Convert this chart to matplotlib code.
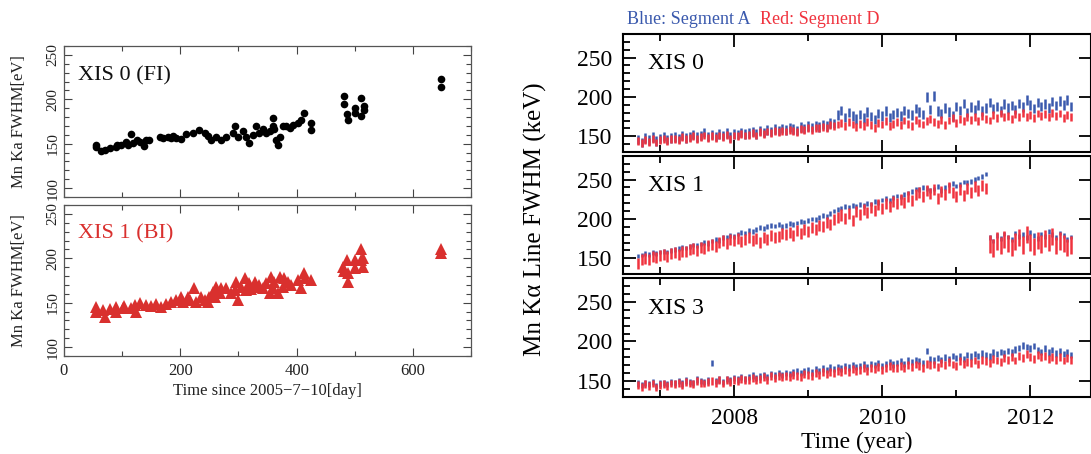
import matplotlib
matplotlib.use("Agg")
import matplotlib.pyplot as plt
from matplotlib.ticker import MultipleLocator, NullFormatter

plt.rcParams['font.family'] = ['Liberation Serif', 'DejaVu Serif']

# ---------------- Left panels: days since 2005-07-10 ----------------
fi_day = [55.6, 55.6, 64, 70, 78.5, 90, 91, 98.5, 107, 110, 116, 118.6, 125, 130, 137, 141.5, 147,
          164.5, 170, 179, 184.5, 187.4, 193, 201.7, 210, 222, 233, 242, 247.5, 253, 262, 270, 279,
          290.5, 293.5, 299, 308, 313, 319, 325, 331, 336, 342, 348, 353.5, 359, 359, 362, 365, 368, 371,
          376, 382, 388, 394, 402, 408, 412, 425, 425,
          482, 482, 487, 488, 501, 501, 511, 511, 516, 516, 648.6, 648.6]
fi_fwhm = [148, 146, 141.5, 142.6, 145, 146, 149, 149, 151.6, 148, 161, 151, 154.6, 151.6, 147, 154.6, 154,
           158, 156.5, 158, 156.5, 159, 156.5, 155, 161, 162, 165, 162, 159, 154.6, 158, 154.6, 158,
           162, 169.7, 158, 164, 158, 151, 160, 169.7, 162, 166, 162, 164, 179, 170, 166, 154.6, 149, 158,
           169.7, 169.7, 168, 171.6, 173, 177, 184.8, 173.5, 165,
           203.6, 195, 183, 177, 190, 185, 201.7, 181, 193, 188.5, 222.5, 214]

bi_day = [55.6, 55.6, 67, 70, 78.5, 90, 90, 101, 104, 116, 121.5, 124, 130, 141.5, 150, 159, 167, 176,
          184.5, 193, 201.7, 204.6, 213, 216, 223, 227.5, 236, 242, 247.5, 250, 256, 259, 262, 267.6, 270,
          279, 287.6, 293.5, 296, 299, 305, 310.6, 313, 319, 322, 327.8, 331, 336, 342, 348, 353.5, 356,
          359, 362, 368, 371, 376, 379, 385, 391, 402, 408, 412, 414, 425,
          479.6, 481, 487, 488, 488, 501, 501, 510, 510, 514, 515, 648.6, 648.6]
bi_fwhm = [144.7, 139.8, 141.7, 133.4, 142.5, 145.5, 139.8, 143.6, 146, 143.6, 147.4, 139.8, 150, 147.4,
           146, 148.5, 144.7, 149, 151, 153, 156.8, 151, 156.8, 153, 166, 151, 156.8, 153, 151, 156.8,
           162.4, 156.8, 168, 160.5, 166, 166, 160.5, 164, 173.7, 153, 168, 177.4, 164, 171.8, 165, 173.7,
           168, 170, 166, 171.8, 160.5, 179, 166, 173.7, 160.5, 179, 168, 177.4, 173.7, 170, 175.6, 166,
           183, 177.4, 175.6,
           190.6, 186, 198, 183, 173.7, 198, 188.7, 210, 198, 190.6, 200, 211, 205.6]

# ---------------- Right panels: time in years ----------------
t_year = [2006.70, 2006.75, 2006.80, 2006.85, 2006.90, 2006.95, 2007.00, 2007.05, 2007.10, 2007.15,
          2007.20, 2007.25, 2007.30, 2007.35, 2007.40, 2007.45, 2007.50, 2007.55, 2007.60, 2007.65,
          2007.70, 2007.75, 2007.80, 2007.85, 2007.90, 2007.95, 2008.00, 2008.05, 2008.10, 2008.15,
          2008.20, 2008.25, 2008.30, 2008.35, 2008.40, 2008.45, 2008.50, 2008.55, 2008.60, 2008.65,
          2008.70, 2008.75, 2008.80, 2008.85, 2008.90, 2008.95, 2009.00, 2009.05, 2009.10, 2009.15,
          2009.20, 2009.25, 2009.30, 2009.35, 2009.40, 2009.45, 2009.50, 2009.55, 2009.60, 2009.65,
          2009.70, 2009.75, 2009.80, 2009.85, 2009.90, 2009.95, 2010.00, 2010.05, 2010.10, 2010.15,
          2010.20, 2010.25, 2010.30, 2010.35, 2010.40, 2010.45, 2010.50, 2010.55, 2010.60, 2010.65,
          2010.70, 2010.75, 2010.80, 2010.85, 2010.90, 2010.95, 2011.00, 2011.05, 2011.10, 2011.15,
          2011.20, 2011.25, 2011.30, 2011.35, 2011.40, 2011.45, 2011.50, 2011.55, 2011.60, 2011.65,
          2011.70, 2011.75, 2011.80, 2011.85, 2011.90, 2011.95, 2012.00, 2012.05, 2012.10, 2012.15,
          2012.20, 2012.25, 2012.30, 2012.35, 2012.40, 2012.45, 2012.50, 2012.55]

xis0_a = [146, 142, 148, 145, 149, 144, 147, 150, 146, 148,
          149, 147, 151, 148, 150, 152, 149, 151, 155, 150,
          152, 150, 153, 151, 154, 149, 153, 152, 155, 153,
          154, 156, 153, 157, 155, 158, 156, 159, 157, 160,
          158, 161, 159, 157, 162, 160, 163, 161, 164, 162,
          165, 163, 167, 166, 177, 183, 174, 180, 176, 172,
          178, 173, 181, 175, 171, 179, 176, 182, 174, 178,
          180, 176, 183, 179, 177, 185, 181, 178, 200, 184,
          201, 182, 179, 186, 181, 176, 188, 183, 192, 180,
          187, 184, 190, 182, 186, 193, 185, 188, 183, 191,
          186, 189, 184, 192, 187, 196, 190, 185, 193, 188,
          191, 186, 194, 189, 195, 190, 196, 188]
xis0_d = [144, 141, 145, 143, 146, 142, 145, 147, 144, 146,
          147, 145, 149, 146, 148, 150, 147, 149, 151, 148,
          150, 148, 151, 149, 152, 147, 151, 150, 153, 151,
          152, 154, 151, 155, 153, 156, 154, 157, 155, 157,
          156, 158, 157, 155, 159, 158, 160, 158, 161, 160,
          162, 160, 164, 163, 165, 167, 163, 168, 165, 162,
          166, 163, 168, 164, 161, 167, 165, 169, 163, 166,
          168, 164, 170, 166, 163, 171, 167, 165, 169, 172,
          168, 166, 171, 164, 170, 173, 167, 172, 169, 175,
          171, 174, 169, 176, 172, 170, 177, 173, 179, 174,
          176, 172, 178, 174, 180, 175, 177, 173, 179, 176,
          178, 174, 180, 176, 179, 173, 177, 175]

xis1_a = [153, 154, 156, 155, 157, 156, 158, 159, 158, 160,
          161, 162, 164, 163, 165, 167, 166, 168, 170, 169,
          172, 174, 173, 176, 177, 179, 178, 181, 183, 182,
          185, 184, 187, 189, 188, 190, 192, 191, 193, 190,
          192, 194, 193, 195, 197, 196, 198, 200, 199, 202,
          204, 203, 207, 210, 212, 214, 216, 215, 217, 216,
          218, 217, 220, 219, 222, 221, 224, 226, 223, 227,
          229, 228, 231, 233, 235, 238, 237, 240, 239, 236,
          238, 241, 236, 240, 243, 245, 242, 244, 247, 246,
          248, 250, 252, 254, 257, 176, 172, 179, 175, 181,
          177, 174, 182, 178, 180, 176, 183, 179, 175, 181,
          178, 184, 180, 176, 182, 179, 174, 177]
xis1_d = [143, 148, 150, 149, 152, 151, 153, 155, 152, 156,
          157, 155, 159, 158, 161, 163, 160, 164, 162, 166,
          168, 165, 170, 172, 169, 174, 172, 175, 171, 174,
          176, 172, 175, 170, 177, 174, 179, 176, 178, 181,
          180, 183, 179, 185, 182, 186, 184, 189, 187, 192,
          190, 195, 193, 199, 202, 205, 201, 207, 198, 210,
          206, 212, 208, 215, 211, 218, 213, 220, 216, 222,
          219, 225, 221, 228, 224, 231, 234, 229, 236, 232,
          238, 226, 235, 231, 240, 233, 228, 237, 230, 239,
          234, 241, 236, 243, 239, 168, 163, 172, 166, 174,
          169, 164, 171, 176, 167, 180, 170, 165, 173, 168,
          175, 170, 178, 166, 172, 169, 164, 167]

xis3_a = [147, 145, 148, 146, 149, 144, 147, 148, 146, 149,
          148, 150, 147, 151, 149, 148, 152, 150, 149, 151,
          173, 150, 152, 149, 153, 151, 154, 152, 155, 153,
          155, 157, 154, 156, 158, 155, 159, 157, 160, 158,
          160, 159, 161, 163, 160, 162, 164, 161, 165, 163,
          166, 164, 167, 165, 168, 166, 169, 167, 170, 168,
          169, 171, 168, 172, 170, 173, 169, 172, 174, 171,
          173, 175, 172, 176, 174, 177, 175, 173, 188, 178,
          176, 179, 177, 180, 178, 182, 179, 181, 178, 183,
          181, 184, 182, 185, 183, 181, 186, 184, 187, 185,
          188, 186, 190, 192, 195, 193, 191, 194, 189, 187,
          191, 186, 189, 185, 188, 184, 186, 183]
xis3_d = [145, 143, 146, 144, 147, 142, 145, 146, 144, 147,
          146, 148, 145, 149, 147, 146, 150, 148, 147, 149,
          150, 148, 151, 147, 151, 149, 152, 150, 153, 151,
          152, 154, 151, 153, 155, 152, 156, 154, 157, 155,
          156, 155, 158, 157, 155, 159, 158, 156, 160, 158,
          161, 159, 162, 160, 163, 161, 164, 162, 165, 163,
          164, 166, 163, 167, 165, 168, 164, 167, 169, 166,
          167, 169, 166, 170, 168, 171, 169, 167, 172, 170,
          171, 168, 173, 170, 174, 171, 169, 175, 172, 174,
          173, 176, 172, 177, 175, 173, 178, 176, 174, 179,
          177, 180, 176, 182, 179, 184, 181, 178, 183, 180,
          182, 178, 181, 177, 180, 176, 179, 177]

# half-lengths of the error bars (keV)
err_xis0_a, err_xis0_d = 6, 5
err_xis1_a = 3
err_xis1_d_before, err_xis1_d_after = 7, 11
xis1_change = 2011.42          # time of the XIS 1 step
err_xis3_a, err_xis3_d = 4, 5

panel_names = ["XIS 0", "XIS 1", "XIS 3"]

BLUE = "#3a59ad"
RED = "#f0333e"
LRED = "#d9302e"

W, H = 1091, 454
fig = plt.figure(figsize=(W / 100, H / 100), dpi=100)


def ax_px(x0, y0, x1, y1):
    return fig.add_axes([x0 / W, 1 - y1 / H, (x1 - x0) / W, (y1 - y0) / H])


# ---------------- left ----------------
axL1 = ax_px(64, 46, 471, 197)
axL2 = ax_px(64, 205, 471, 356)
for ax in (axL1, axL2):
    ax.set_xlim(0, 700)
    ax.set_ylim(90, 260)
    ax.xaxis.set_major_locator(MultipleLocator(200))
    ax.xaxis.set_minor_locator(MultipleLocator(100))
    ax.yaxis.set_major_locator(MultipleLocator(50))
    ax.yaxis.set_minor_locator(MultipleLocator(10))
    ax.tick_params(which='both', direction='in', top=True, right=True, colors='#444444',
                   labelcolor='#222222', width=0.8)
    ax.tick_params(which='major', length=6)
    ax.tick_params(which='minor', length=3.5)
    ax.tick_params(axis='x', labelsize=12, pad=5)
    ax.tick_params(axis='y', labelsize=11, pad=3)
    for lab in ax.get_yticklabels():
        lab.set_rotation(90)
        lab.set_va('center')
    for s in ax.spines.values():
        s.set_color('#555555')
        s.set_linewidth(0.9)
    ax.set_ylabel("Mn Ka FWHM[eV]", fontsize=12, color='#222222')
    ax.yaxis.set_label_coords(-0.092, 0.5)
axL1.xaxis.set_major_formatter(NullFormatter())

axL1.plot(fi_day, fi_fwhm, 'o', color='black', markersize=5.5, markeredgewidth=0)
axL2.plot(bi_day, bi_fwhm, '^', color=LRED, markersize=8, markeredgewidth=0)
axL1.text(0.034, 0.77, "XIS 0 (FI)", transform=axL1.transAxes, fontsize=16, va='baseline', color='#111111')
axL2.text(0.034, 0.78, "XIS 1 (BI)", transform=axL2.transAxes, fontsize=16, va='baseline', color=LRED)
axL2.set_xlabel("Time since 2005\u22127\u221210[day]", fontsize=12, labelpad=3, color='#222222')

# ---------------- right ----------------
xis1_d_err = [err_xis1_d_before if t < xis1_change else err_xis1_d_after for t in t_year]
axR = [ax_px(623, 34, 1091, 152), ax_px(623, 156, 1091, 274), ax_px(623, 278, 1091, 397)]
series = [(xis0_a, err_xis0_a, xis0_d, err_xis0_d),
          (xis1_a, err_xis1_a, xis1_d, xis1_d_err),
          (xis3_a, err_xis3_a, xis3_d, err_xis3_d)]
for ax, (ya, ea, yd, ed), name in zip(axR, series, panel_names):
    ax.errorbar(t_year, ya, yerr=ea, fmt='none', ecolor=BLUE, elinewidth=1.8, capsize=0)
    ax.errorbar(t_year, yd, yerr=ed, fmt='none', ecolor=RED, elinewidth=1.8, capsize=0)
    ax.set_xlim(2006.5, 2012.82)
    ax.set_ylim(130, 280)
    ax.xaxis.set_major_locator(MultipleLocator(2))
    ax.xaxis.set_minor_locator(MultipleLocator(1))
    ax.yaxis.set_major_locator(MultipleLocator(50))
    ax.yaxis.set_minor_locator(MultipleLocator(10))
    ax.tick_params(which='both', direction='in', top=True, right=True, width=1.3)
    ax.tick_params(which='major', length=9)
    ax.tick_params(which='minor', length=5)
    ax.tick_params(axis='y', which='minor', right=False)
    ax.tick_params(labelsize=17)
    ax.tick_params(axis='y', pad=8)
    ax.tick_params(axis='x', pad=8)
    for s in ax.spines.values():
        s.set_linewidth(1.5)
    ax.text(0.054, 0.70, name, transform=ax.transAxes, fontsize=17, va='baseline')
for ax in axR[:2]:
    ax.xaxis.set_major_formatter(NullFormatter())

axR[2].set_xlabel("Time (year)", fontsize=17, labelpad=2)
fig.text(535 / W, 1 - 219 / H, "Mn K\u03b1 Line FWHM (keV)", rotation=90, fontsize=18,
         ha='center', va='center')
fig.text(627 / W, 1 - 24 / H, "Blue: Segment A", color=BLUE, fontsize=13, va='baseline')
fig.text(760 / W, 1 - 24 / H, "Red: Segment D", color=RED, fontsize=13, va='baseline')

fig.savefig("out.png", dpi=100)
